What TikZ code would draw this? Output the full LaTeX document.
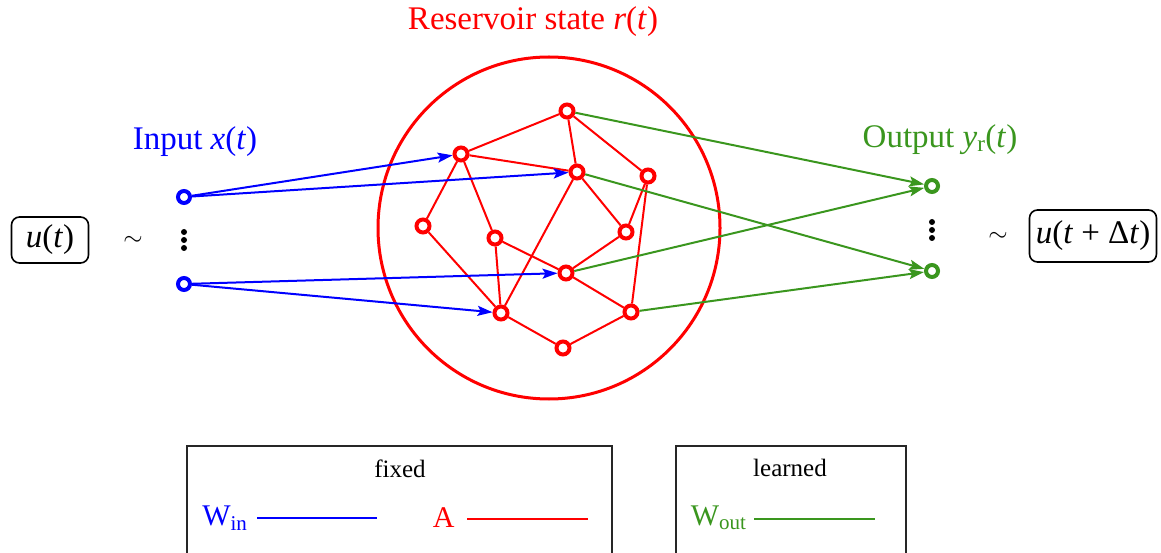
\documentclass[tikz,border=0pt]{standalone}
\usepackage{fontspec}
\setmainfont{Liberation Serif}
\usetikzlibrary{arrows.meta}
\definecolor{gr}{RGB}{58,150,30}
\begin{document}
\begin{tikzpicture}[x=1pt,y=-1pt,
  rnode/.style={circle,draw=red,fill=white,line width=4pt,minimum size=13pt,inner sep=0pt},
  inode/.style={circle,draw=blue,fill=white,line width=4pt,minimum size=12pt,inner sep=0pt},
  onode/.style={circle,draw=gr,fill=white,line width=4pt,minimum size=12pt,inner sep=0pt},
  redge/.style={red,line width=2pt},
  bedge/.style={blue,line width=2pt,-{Stealth[length=15pt,width=10pt,inset=3pt]}},
  gedge/.style={gr,line width=2pt,-{Stealth[length=15pt,width=10pt,inset=3pt]}},
  big/.style={font=\fontsize{33}{36}\selectfont},
  mid/.style={font=\fontsize{25}{30}\selectfont},
  leg/.style={font=\fontsize{30}{34}\selectfont},
  vbox/.style={draw,rounded corners=8pt,line width=1.6pt,inner sep=2pt},
  dot/.style={circle,fill=black,inner sep=0pt,minimum size=6pt}]
\useasboundingbox (0,0) rectangle (1161,553);
% reservoir circle
\draw[red,line width=3pt] (549,228) circle (171);
% titles
\node[big,red] (title) at (533,22) {Reservoir state \textit{r}(\textit{t})};
\node[big,blue] (inlab) at (195,142) {Input \textit{x}(\textit{t})};
\node[big,gr] (outlab) at (940,140) {Output \textit{y}\textsubscript{r}(\textit{t})};
% boxes
\node[big,vbox,minimum width=77pt,minimum height=46pt] (u) at (50,240) {\textit{u}(\textit{t})};
\node[big] (t1) at (133,241) {$\sim$};
\node[big] (t2) at (998,237) {$\sim$};
\node[big,vbox,minimum width=127pt,minimum height=52pt] (u2) at (1093,236) {\textit{u}(\textit{t} + Δ\textit{t})};
% reservoir nodes
\node[rnode] (n1) at (567,111) {};
\node[rnode] (n2) at (461,154) {};
\node[rnode] (n3) at (577,172) {};
\node[rnode] (n4) at (648,176) {};
\node[rnode] (n5) at (423,226) {};
\node[rnode] (n6) at (495,238) {};
\node[rnode] (n7) at (626,232) {};
\node[rnode] (n8) at (566,273) {};
\node[rnode] (n9) at (501,313) {};
\node[rnode] (n10) at (631,312) {};
\node[rnode] (n11) at (563,348) {};
% input/output nodes
\node[inode] (i1) at (184,197) {};
\node[inode] (i2) at (184,284) {};
\node[onode] (o1) at (932,186) {};
\node[onode] (o2) at (932,271) {};
% dots
\node[dot] (d1) at (184,232) {};
\node[dot] (d2) at (184,240) {};
\node[dot] (d3) at (184,248) {};
\node[dot] (e1) at (932,222) {};
\node[dot] (e2) at (932,230) {};
\node[dot] (e3) at (932,238) {};
% red edges
\draw[redge] (n1) -- (n2);
\draw[redge] (n1) -- (n3);
\draw[redge] (n1) -- (n4);
\draw[redge] (n2) -- (n3);
\draw[redge] (n2) -- (n5);
\draw[redge] (n2) -- (n6);
\draw[redge] (n3) -- (n7);
\draw[redge] (n3) -- (n9);
\draw[redge] (n4) -- (n7);
\draw[redge] (n4) -- (n10);
\draw[redge] (n5) -- (n9);
\draw[redge] (n6) -- (n9);
\draw[redge] (n6) -- (n8);
\draw[redge] (n7) -- (n8);
\draw[redge] (n8) -- (n10);
\draw[redge] (n9) -- (n11);
\draw[redge] (n10) -- (n11);
% blue arrows
\draw[bedge] (i1) -- (n2);
\draw[bedge] (i1) -- (n3);
\draw[bedge] (i2) -- (n8);
\draw[bedge] (i2) -- (n9);
% green arrows
\draw[gedge] (n1) -- (o1);
\draw[gedge] (n3) -- (o2);
\draw[gedge] (n8) -- (o1);
\draw[gedge] (n10) -- (o2);
% legend
\draw[line width=1.5pt,black!85] (187,560) -- (187,446) -- (612,446) -- (612,560);
\draw[line width=1.5pt,black!85] (676,560) -- (676,446) -- (906,446) -- (906,560);
\node[mid] (fixed) at (400,469) {fixed};
\node[mid] (learned) at (790,468) {learned};
\node[leg,blue,anchor=east] (win) at (251,518) {W\textsubscript{in}};
\coordinate (wa) at (257,518);
\coordinate (wb) at (377,518);
\draw[blue,line width=2pt] (wa) -- (wb);
\node[leg,red,anchor=east] (al) at (458,518) {A};
\coordinate (aa) at (467,519);
\coordinate (ab) at (588,519);
\draw[red,line width=2pt] (aa) -- (ab);
\node[leg,gr,anchor=east] (wo) at (750,518) {W\textsubscript{out}};
\coordinate (ga) at (754,519);
\coordinate (gb) at (875,519);
\draw[gr,line width=2pt] (ga) -- (gb);
\end{tikzpicture}
\end{document}
